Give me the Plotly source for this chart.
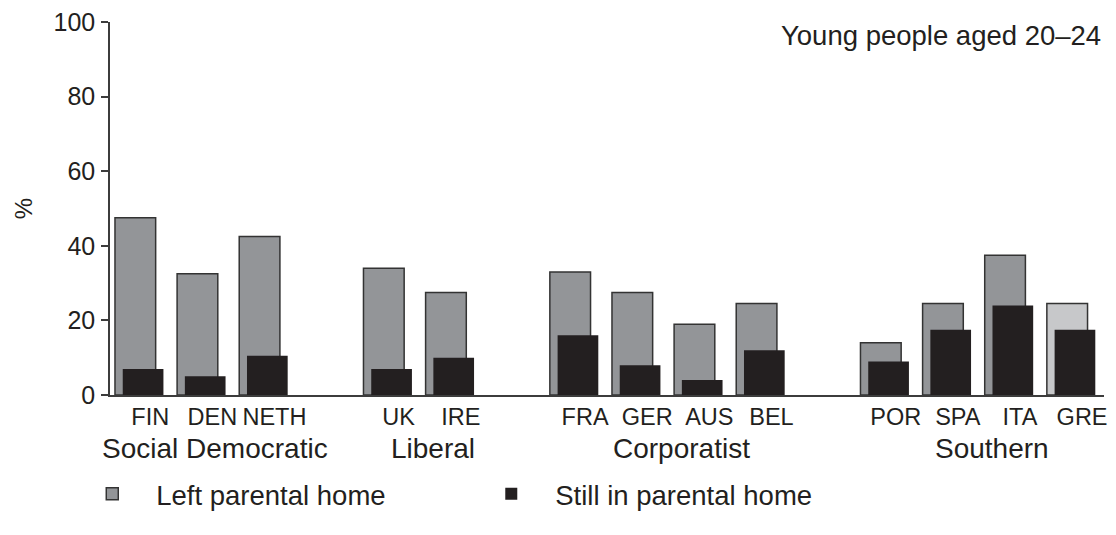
import plotly.graph_objs as go

# regime groups and the countries in each (left to right)
groups = ["Social Democratic", "Liberal", "Corporatist", "Southern"]
group_countries = [
    ["FIN", "DEN", "NETH"],
    ["UK", "IRE"],
    ["FRA", "GER", "AUS", "BEL"],
    ["POR", "SPA", "ITA", "GRE"],
]

# % of young people aged 20-24
left_home = [47.5, 32.5, 42.5, 34, 27.5, 33, 27.5, 19, 24.5, 14, 24.5, 37.5, 24.5]
still_home = [7, 5, 10.5, 7, 10, 16, 8, 4, 12, 9, 17.5, 24, 17.5]

INK = "#231f20"
GREY = "#939598"
LIGHT_GREY = "#c7c8ca"
FONT = "Liberation Sans, Arial, sans-serif"

# slot positions: one slot per country, an empty slot between groups
countries = []
xpos = []
group_mid = []
i = 0
for g, cs in zip(groups, group_countries):
    start = i
    for c in cs:
        countries.append(c)
        xpos.append(i)
        i += 1
    group_mid.append((start + i - 1) / 2.0)
    i += 1

fig = go.Figure()
fig.add_trace(go.Bar(
    name="Left parental home",
    x=xpos,
    y=left_home,
    offset=-0.39,
    width=0.655,
    marker=dict(color=[LIGHT_GREY if c == "GRE" else GREY for c in countries],
                line=dict(color="#333333", width=1.5)),
    hoverinfo="y",
))
fig.add_trace(go.Bar(
    name="Still in parental home",
    x=xpos,
    y=still_home,
    offset=-0.265,
    width=0.655,
    marker=dict(color=INK, line=dict(color=INK, width=0)),
    hoverinfo="y",
))

annotations = []
for g, m in zip(groups, group_mid):
    annotations.append(dict(
        x=m, y=0, xref="x", yref="paper",
        text=g, showarrow=False,
        xanchor="center", yanchor="middle",
        xshift=14, yshift=-53,
        font=dict(size=28, color=INK, family=FONT),
    ))
annotations.append(dict(
    x=1, y=1, xref="paper", yref="paper",
    text="Young people aged 20\u201324", showarrow=False,
    xanchor="right", yanchor="middle",
    xshift=-1, yshift=-13,
    font=dict(size=27.5, color=INK, family=FONT),
))

# page body has an 8px margin, so the figure is 8px smaller each way
fig.update_layout(
    width=1108,
    height=527,
    margin=dict(l=102, r=12, t=14, b=140, autoexpand=False),
    paper_bgcolor="white",
    plot_bgcolor="white",
    barmode="overlay",
    font=dict(family=FONT, color=INK),
    annotations=annotations,
    showlegend=True,
    legend=dict(
        orientation="h",
        xref="container", yref="container",
        x=0.0544, y=0.078,
        xanchor="left", yanchor="middle",
        font=dict(size=27.5, color=INK, family=FONT),
        itemwidth=78,
        entrywidth=306,
        entrywidthmode="pixels",
        bgcolor="rgba(0,0,0,0)",
    ),
    xaxis=dict(
        range=[-0.47, 15.53],
        tickmode="array",
        tickvals=xpos,
        ticktext=countries,
        ticks="",
        showgrid=False,
        zeroline=False,
        showline=True,
        linecolor="#3c3c3c",
        linewidth=1.5,
        ticklabelshift=11,
        ticklabelstandoff=0,
        ticklabeloverflow="allow",
        automargin=False,
        tickfont=dict(size=23.5, color=INK, family=FONT),
        fixedrange=True,
    ),
    yaxis=dict(
        range=[0, 100],
        tickvals=[0, 20, 40, 60, 80, 100],
        ticks="outside",
        ticklen=7,
        tickwidth=1.5,
        tickcolor="#3c3c3c",
        showgrid=False,
        zeroline=False,
        showline=True,
        linecolor="#3c3c3c",
        linewidth=1.5,
        ticklabelstandoff=1,
        ticklabeloverflow="allow",
        automargin=False,
        tickfont=dict(size=25, color=INK, family=FONT),
        title=dict(text="%", standoff=14, font=dict(size=24, color=INK, family=FONT)),
        fixedrange=True,
    ),
)

fig.write_html("out.html")
